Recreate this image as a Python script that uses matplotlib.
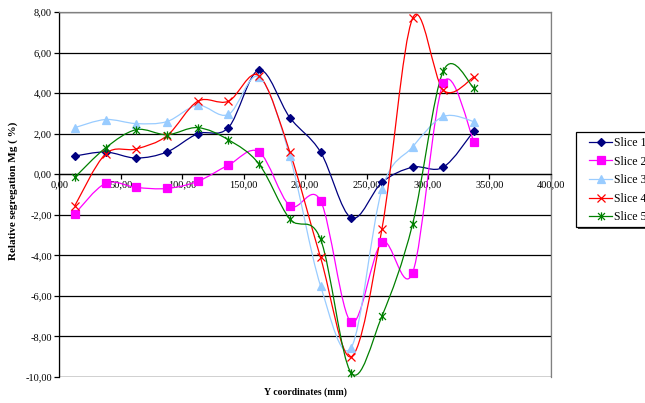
import matplotlib
matplotlib.use('Agg')
import matplotlib.pyplot as plt
from matplotlib.path import Path
from matplotlib.patches import PathPatch, Rectangle
from matplotlib.lines import Line2D
from matplotlib.ticker import FuncFormatter, MultipleLocator

# Data
x_pos = [12.5, 37.5, 62.5, 87.5, 112.5, 137.5, 162.5, 187.5, 212.5, 237.5, 262.5, 287.5, 312.5, 337.5]
slice1 = [0.90, 1.10, 0.80, 1.10, 2.00, 2.30, 5.15, 2.80, 1.10, -2.15, -0.40, 0.35, 0.35, 2.15]
slice2 = [-1.95, -0.45, -0.65, -0.70, -0.35, 0.45, 1.10, -1.55, -1.30, -7.30, -3.35, -4.85, 4.50, 1.60]
slice3 = [2.30, 2.70, 2.50, 2.60, 3.40, 2.95, 4.80, 0.90, -5.50, -8.55, -0.75, 1.35, 2.85, 2.60]
slice4 = [-1.55, 1.00, 1.25, 1.90, 3.60, 3.60, 4.85, 1.10, -4.10, -9.00, -2.70, 7.70, 4.15, 4.80]
slice5 = [-0.15, 1.30, 2.20, 1.95, 2.30, 1.70, 0.50, -2.20, -3.20, -9.80, -7.00, -2.45, 5.10, 4.25]
labels = ['Slice 1', 'Slice 2', 'Slice 3', 'Slice 4', 'Slice 5']

# asterisk marker like excel's "star"
star = Path([(-1, -1), (1, 1), (-1, 1), (1, -1), (0, -1.2), (0, 1.2)],
            [Path.MOVETO, Path.LINETO, Path.MOVETO, Path.LINETO, Path.MOVETO, Path.LINETO])

styles = [
    dict(color='#000080', marker='D', ms=4.5, mfc='#000080'),
    dict(color='#FF00FF', marker='s', ms=6, mfc='#FF00FF'),
    dict(color='#99CCFF', marker='^', ms=6, mfc='#99CCFF'),
    dict(color='#FF0000', marker='x', ms=6, mfc='none'),
    dict(color='#008000', marker=star, ms=6, mfc='none'),
]


def smooth_path(xs, ys):
    # excel-like smoothed line: cubic bezier, control points at 1/6 of neighbour difference
    pts = list(zip(xs, ys))
    n = len(pts)
    verts = [pts[0]]
    codes = [Path.MOVETO]
    for i in range(n - 1):
        p0 = pts[i - 1] if i > 0 else pts[i]
        p1 = pts[i]
        p2 = pts[i + 1]
        p3 = pts[i + 2] if i + 2 < n else pts[i + 1]
        c1 = (p1[0] + (p2[0] - p0[0]) / 6.0, p1[1] + (p2[1] - p0[1]) / 6.0)
        c2 = (p2[0] - (p3[0] - p1[0]) / 6.0, p2[1] - (p3[1] - p1[1]) / 6.0)
        verts += [c1, c2, p2]
        codes += [Path.CURVE4] * 3
    return Path(verts, codes)


plt.rcParams['font.family'] = ['Liberation Serif', 'DejaVu Serif']

W, H = 645.0, 403.0
fig = plt.figure(figsize=(6.45, 4.03), dpi=100)
ax = fig.add_axes([0.0922, 0.0645, 0.7618, 0.9055])

series = [slice1, slice2, slice3, slice4, slice5]
handles = []
for ys, st, lab in zip(series, styles, labels):
    patch = PathPatch(smooth_path(x_pos, ys), facecolor='none', edgecolor=st['color'],
                      lw=0.9, zorder=3)
    ax.add_patch(patch)
    ax.plot(x_pos, ys, linestyle='none', marker=st['marker'], ms=st['ms'],
            mfc=st['mfc'], mec=st['color'], mew=0.9, zorder=4)
    handles.append(Line2D([], [], color=st['color'], lw=0.9, marker=st['marker'],
                          ms=st['ms'], mfc=st['mfc'], mec=st['color'], mew=0.9))

ax.set_xlim(0, 400)
ax.set_ylim(-10, 8)
ax.xaxis.set_major_locator(MultipleLocator(50))
ax.yaxis.set_major_locator(MultipleLocator(2))
fmt = FuncFormatter(lambda v, p: ('%.2f' % v).replace('.', ','))
ax.xaxis.set_major_formatter(fmt)
ax.yaxis.set_major_formatter(fmt)

ax.grid(axis='y', color='black', lw=0.9, zorder=1)
ax.set_axisbelow(True)

ax.spines['bottom'].set_position(('data', 0))
ax.spines['bottom'].set_color('black')
ax.spines['bottom'].set_linewidth(0.9)
ax.spines['left'].set_color('black')
ax.spines['left'].set_linewidth(0.9)
for s in ['top', 'right']:
    ax.spines[s].set_color('#808080')
    ax.spines[s].set_linewidth(0.9)
ax.add_patch(Rectangle((0, 0), 1, 1, transform=ax.transAxes, facecolor='none',
                       edgecolor='#808080', lw=0.9, zorder=0.5))

ax.tick_params(axis='both', direction='out', length=3.5, width=0.9, labelsize=7.5,
               colors='black')
ax.tick_params(axis='x', pad=1)
ax.tick_params(axis='y', pad=2)

ax.set_ylabel('Relative segregation Mg ( %)', fontsize=8, fontweight='bold')
ax.yaxis.set_label_coords(-0.085, 0.51)
fig.text(305 / W, 1 - 392 / H, 'Y coordinates (mm)', fontsize=7, fontweight='bold',
         ha='center', va='center')

# legend box (drawn by hand so the inner padding matches), cut by the right edge
fig.patches.append(Rectangle((578 / W, 1 - 229 / H), 90 / W, 96 / H,
                             transform=fig.transFigure, facecolor='#404040',
                             edgecolor='none', zorder=1))
fig.patches.append(Rectangle((576 / W, 1 - 227 / H), 90 / W, 95 / H,
                             transform=fig.transFigure, facecolor='white',
                             edgecolor='black', lw=0.9, zorder=2))

leg = fig.legend(handles, labels, loc='upper left', bbox_to_anchor=(589 / W, 1 - 137 / H),
                 fontsize=8.5, frameon=False, handlelength=1.95, labelspacing=0.56,
                 handletextpad=0.2, borderpad=0, borderaxespad=0)
leg.set_zorder(5)

fig.savefig('out.png', dpi=100)
